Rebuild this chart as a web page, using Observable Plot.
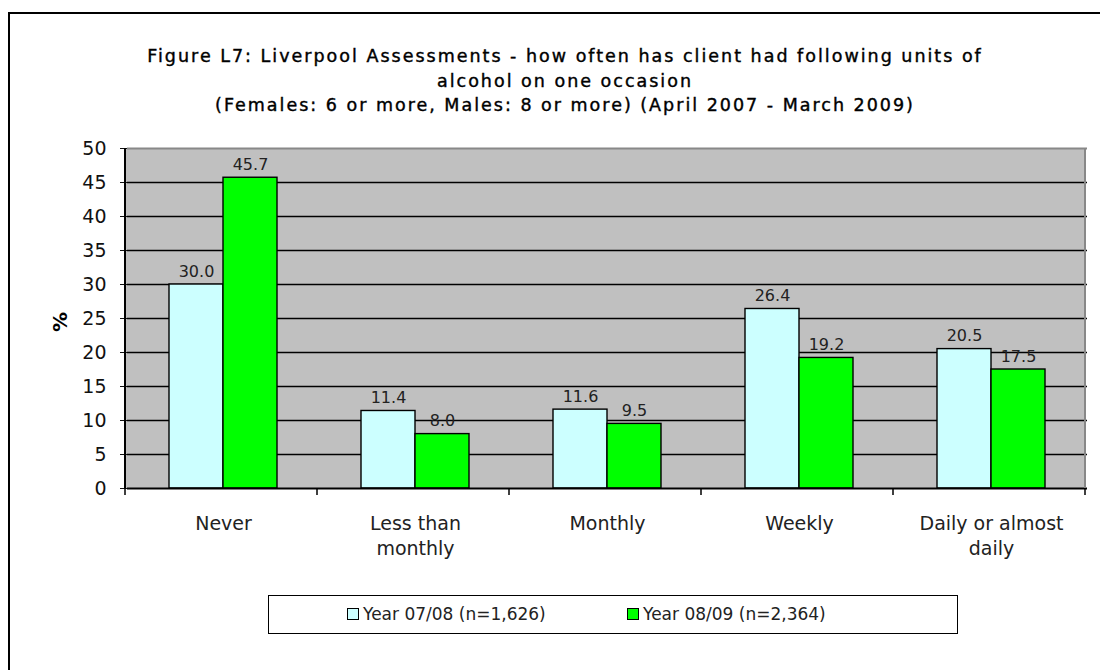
<!DOCTYPE html>
<html><head><meta charset="utf-8">
<script src="https://cdn.jsdelivr.net/npm/d3@7"></script>
<script src="https://cdn.jsdelivr.net/npm/@observablehq/plot@0.6"></script>
<style>
body{margin:0;background:#fff;}
#wrap{position:relative;width:1100px;height:670px;overflow:hidden;background:#fff;}
#border{position:absolute;left:8px;top:12px;width:1200px;height:800px;border:2px solid #000;box-sizing:border-box;}
#title{position:absolute;left:15px;top:44px;width:1100px;text-align:center;font-family:"DejaVu Sans";font-weight:normal;font-size:17.5px;letter-spacing:2px;-webkit-text-stroke:0.4px #000;line-height:24.5px;color:#000;}
#chart{position:absolute;left:0;top:120px;}
#ylab{position:absolute;left:50px;top:310px;width:20px;height:24px;font-family:"DejaVu Sans";font-weight:bold;font-size:20px;transform:rotate(-90deg);text-align:center;line-height:24px;}
#legend{position:absolute;left:268px;top:595px;width:690px;height:39px;border:1.5px solid #000;box-sizing:border-box;font-family:"DejaVu Sans";font-size:17px;color:#222;}
.item{position:absolute;top:0;line-height:36px;white-space:nowrap;}
.sw{display:inline-block;width:10px;height:10px;border:1.5px solid #000;margin-right:4px;vertical-align:0px;}
</style></head>
<body><div id="wrap">
<div id="border"></div>
<div id="title"></div>
<div id="chart"></div>
<div id="ylab">%</div>
<div id="legend"></div>
</div>
<script>
const titleLines = [
  "Figure L7: Liverpool Assessments - how often has client had following units of",
  "alcohol on one occasion",
  "(Females: 6 or more, Males: 8 or more) (April 2007 - March 2009)"
];
const categories = ["Never", "Less than\nmonthly", "Monthly", "Weekly", "Daily or almost\ndaily"];
const seriesNames = ["Year 07/08 (n=1,626)", "Year 08/09 (n=2,364)"];
const values0708 = [30.0, 11.4, 11.6, 26.4, 20.5];
const values0809 = [45.7, 8.0, 9.5, 19.2, 17.5];
const yTicks = [0, 5, 10, 15, 20, 25, 30, 35, 40, 45, 50];
const gridTicks = [5, 10, 15, 20, 25, 30, 35, 40, 45];
const seriesColors = ["#CCFFFF", "#00FF00"];

document.getElementById("title").innerHTML = titleLines.map(t => `<div>${t}</div>`).join("");

const rows = [];
categories.forEach((c, i) => {
  rows.push({category: c, series: seriesNames[0], value: values0708[i]});
  rows.push({category: c, series: seriesNames[1], value: values0809[i]});
});

const chart = Plot.plot({
  width: 1100, height: 460,
  marginLeft: 125, marginRight: 12, marginTop: 28, marginBottom: 92,
  facet: {data: rows, x: "category"},
  fx: {domain: categories, padding: 0, axis: null, label: null},
  x: {domain: seriesNames, paddingInner: 0, paddingOuter: 0.77, axis: null, label: null},
  y: {domain: [0, 50], ticks: yTicks, tickSize: 7, tickPadding: 14, label: null, tickFormat: d => String(d)},
  color: {domain: seriesNames, range: seriesColors},
  style: {fontFamily: "DejaVu Sans", fontSize: "19px", color: "#111", background: "transparent", overflow: "visible"},
  marks: [
    Plot.ruleY(gridTicks, {stroke: "#000", strokeWidth: 1.4}),
    Plot.ruleY([50], {stroke: "#888", strokeWidth: 2}),
    Plot.barY(rows, {x: "series", y: "value", fill: "series", stroke: "#000", strokeWidth: 1.4}),
    Plot.text(rows, {x: "series", y: "value", text: d => d.value.toFixed(1), dy: -13, fontSize: 16, fill: "#222"}),
    Plot.text(rows, {filter: d => d.series === seriesNames[0], text: "category", frameAnchor: "bottom", dy: 24, lineAnchor: "top", fontSize: 19, fill: "#222", lineHeight: 1.32}),
    Plot.ruleY([0], {stroke: "#000", strokeWidth: 2})
  ]
});
document.getElementById("chart").appendChild(chart);

// plot background, axis lines and category boundary ticks from the library's scales
const fxs = chart.scale("fx");
const ys = Plot.scale({y: chart.scale("y")});
const svgNode = chart.tagName.toLowerCase() === "svg" ? chart : chart.querySelector("svg");
const svg = d3.select(svgNode);
const x0 = fxs.range[0];
const step = fxs.step;
const x1 = x0 + categories.length * step;
const yB = ys.apply(0), yT = ys.apply(50);
svg.insert("rect", ":first-child")
  .attr("x", x0).attr("y", yT).attr("width", x1 - x0).attr("height", yB - yT)
  .attr("fill", "#C0C0C0");
const g = svg.append("g");
g.append("line").attr("x1", x1).attr("x2", x1)
  .attr("y1", yT).attr("y2", yB).attr("stroke", "#888").attr("stroke-width", 2);
g.append("line").attr("x1", x0).attr("x2", x0).attr("y1", yT).attr("y2", yB + 1)
  .attr("stroke", "#000").attr("stroke-width", 2);
d3.range(categories.length + 1).forEach(i => {
  g.append("line").attr("x1", x0 + i * step).attr("x2", x0 + i * step)
    .attr("y1", yB).attr("y2", yB + 7).attr("stroke", "#000").attr("stroke-width", 1.5);
});

const legend = document.getElementById("legend");
const legendLeft = [78, 358];
seriesNames.forEach((s, i) => {
  const d = document.createElement("div");
  d.className = "item";
  d.style.left = legendLeft[i] + "px";
  d.innerHTML = `<span class="sw" style="background:${seriesColors[i]}"></span>${s}`;
  legend.appendChild(d);
});
</script>
</body></html>
